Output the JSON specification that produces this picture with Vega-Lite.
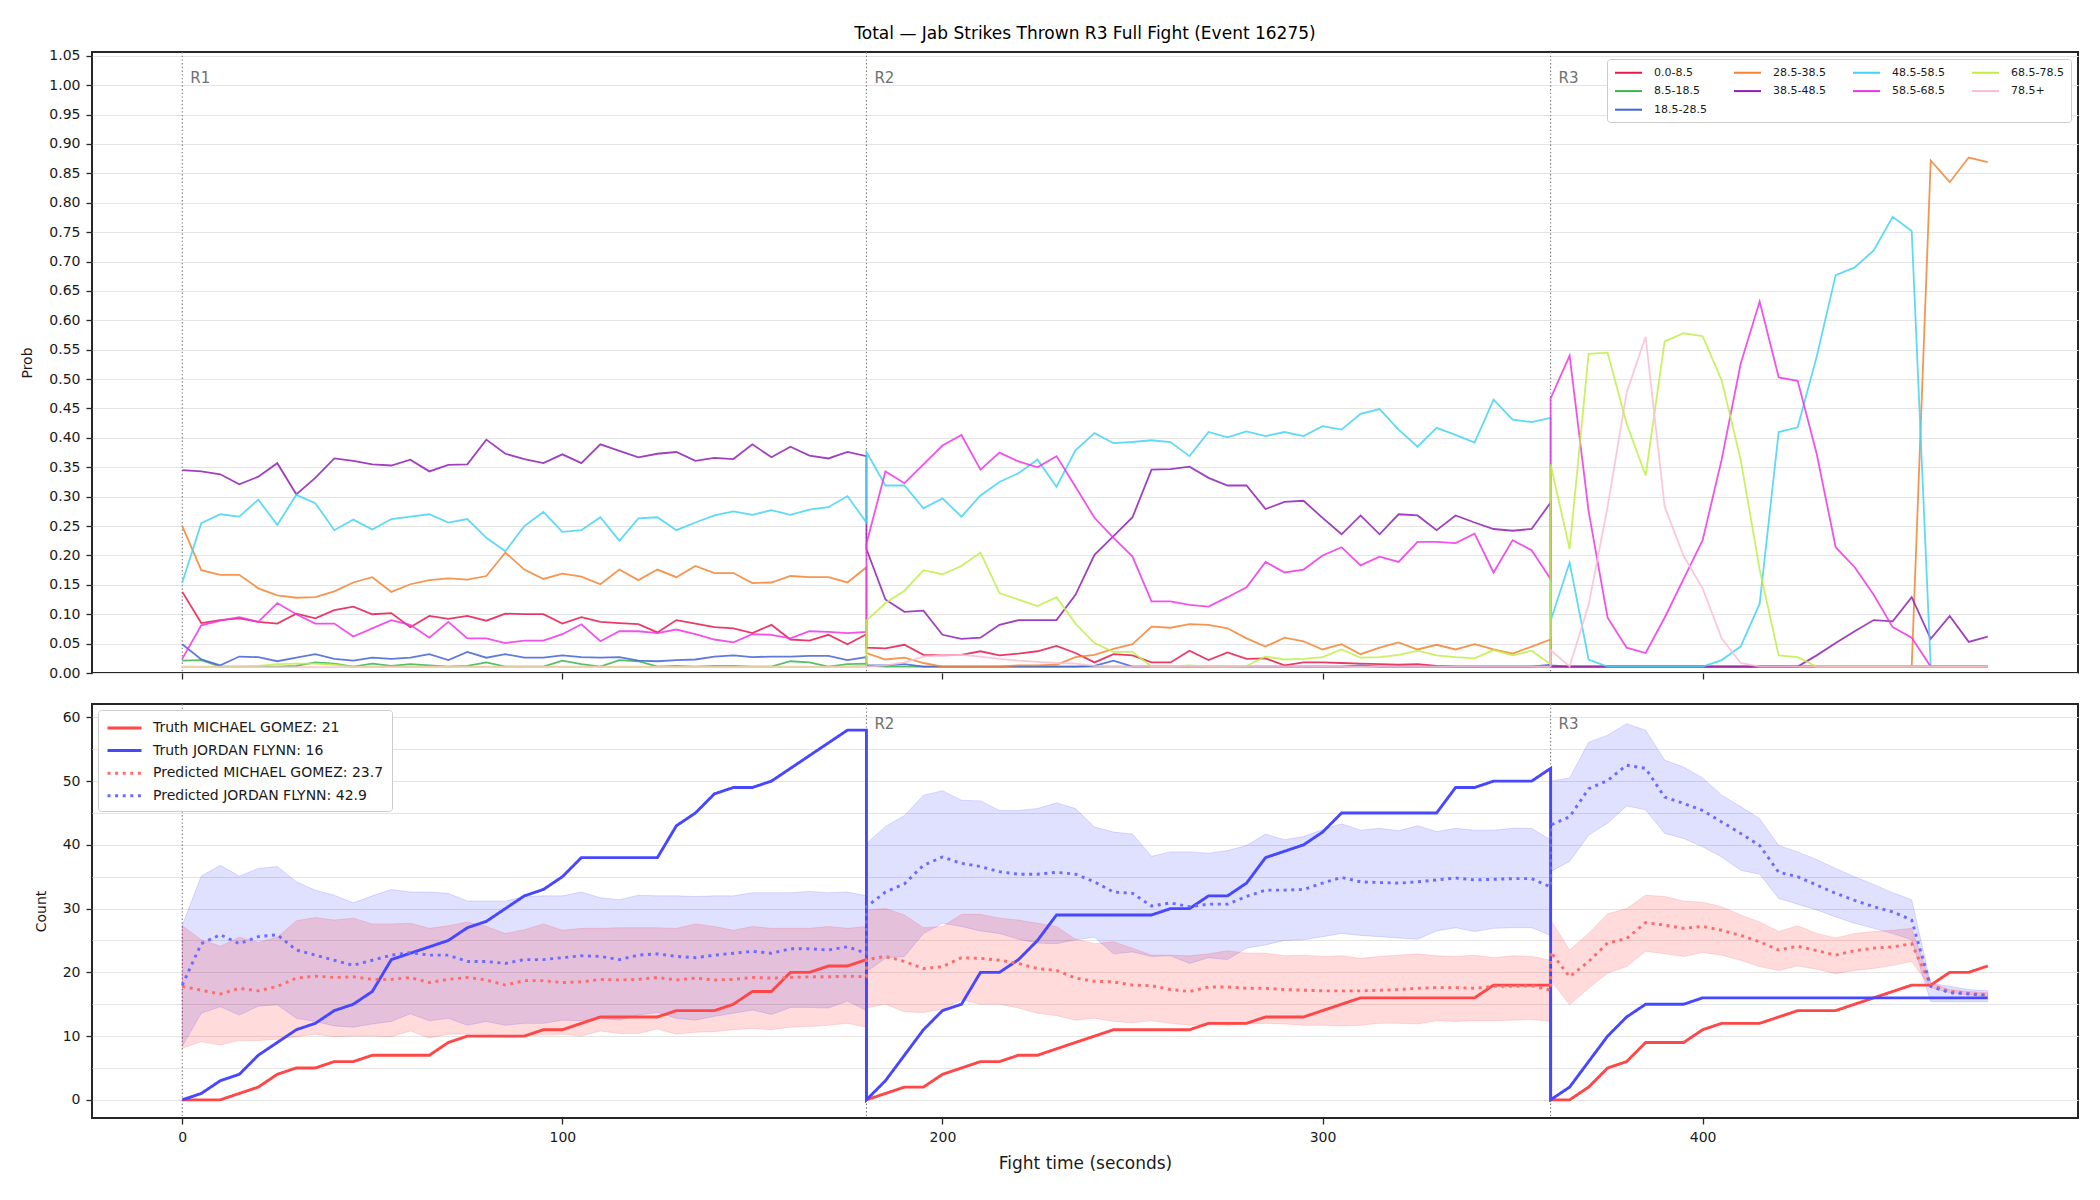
{
  "$schema": "https://vega.github.io/schema/vega-lite/v6.json",
  "background": "white",
  "padding": {"left": 19, "top": 23, "right": 21, "bottom": 22},
  "autosize": {"type": "pad"},
  "config": {
    "font": "DejaVu Sans",
    "view": {"stroke": "#262626", "strokeWidth": 2},
    "axis": {
      "domain": false, "grid": false, "ticks": true, "tickColor": "#262626", "tickWidth": 1.3, "tickSize": 6,
      "labelColor": "#1a1a1a", "labelFontSize": 14, "labelFont": "DejaVu Sans", "labelPadding": 6, "labelOverlap": false,
      "titleFont": "DejaVu Sans", "titleFontWeight": "normal", "titleColor": "#1a1a1a", "titleFontSize": 14, "titlePadding": 14
    },
    "axisY": {"grid": true, "gridColor": "#e4e4e4", "gridWidth": 1},
    "legend": {"labelFont": "DejaVu Sans", "labelColor": "#1a1a1a", "labelLimit": 500}
  },
  "datasets": {
    "rounds": [
      {"t": 0, "label": "R1"},
      {"t": 180, "label": "R2"},
      {"t": 360, "label": "R3"}
    ],
    "prob": [
      {"t":0,"r":1,"b1":0.138,"b2":0.021,"b3":0.049,"b4":0.25,"b5":0.345,"b6":0.154,"b7":0.024,"b8":0.011,"b9":0.01},
      {"t":5,"r":1,"b1":0.085,"b2":0.022,"b3":0.023,"b4":0.175,"b5":0.343,"b6":0.255,"b7":0.081,"b8":0.011,"b9":0.01},
      {"t":10,"r":1,"b1":0.09,"b2":0.011,"b3":0.013,"b4":0.167,"b5":0.338,"b6":0.27,"b7":0.089,"b8":0.011,"b9":0.01},
      {"t":15,"r":1,"b1":0.093,"b2":0.011,"b3":0.028,"b4":0.167,"b5":0.321,"b6":0.266,"b7":0.095,"b8":0.011,"b9":0.01},
      {"t":20,"r":1,"b1":0.087,"b2":0.011,"b3":0.027,"b4":0.144,"b5":0.334,"b6":0.295,"b7":0.087,"b8":0.012,"b9":0.01},
      {"t":25,"r":1,"b1":0.084,"b2":0.011,"b3":0.02,"b4":0.132,"b5":0.357,"b6":0.252,"b7":0.119,"b8":0.015,"b9":0.01},
      {"t":30,"r":1,"b1":0.101,"b2":0.012,"b3":0.026,"b4":0.128,"b5":0.304,"b6":0.303,"b7":0.1,"b8":0.016,"b9":0.01},
      {"t":35,"r":1,"b1":0.093,"b2":0.018,"b3":0.032,"b4":0.129,"b5":0.332,"b6":0.289,"b7":0.084,"b8":0.016,"b9":0.01},
      {"t":40,"r":1,"b1":0.107,"b2":0.016,"b3":0.024,"b4":0.139,"b5":0.365,"b6":0.243,"b7":0.084,"b8":0.014,"b9":0.01},
      {"t":45,"r":1,"b1":0.113,"b2":0.011,"b3":0.021,"b4":0.154,"b5":0.361,"b6":0.261,"b7":0.062,"b8":0.011,"b9":0.01},
      {"t":50,"r":1,"b1":0.1,"b2":0.016,"b3":0.026,"b4":0.163,"b5":0.355,"b6":0.244,"b7":0.076,"b8":0.011,"b9":0.01},
      {"t":55,"r":1,"b1":0.102,"b2":0.012,"b3":0.024,"b4":0.138,"b5":0.353,"b6":0.262,"b7":0.09,"b8":0.011,"b9":0.01},
      {"t":60,"r":1,"b1":0.078,"b2":0.015,"b3":0.026,"b4":0.151,"b5":0.363,"b6":0.266,"b7":0.082,"b8":0.011,"b9":0.01},
      {"t":65,"r":1,"b1":0.097,"b2":0.013,"b3":0.032,"b4":0.158,"b5":0.343,"b6":0.27,"b7":0.06,"b8":0.011,"b9":0.01},
      {"t":70,"r":1,"b1":0.092,"b2":0.011,"b3":0.022,"b4":0.161,"b5":0.354,"b6":0.256,"b7":0.087,"b8":0.011,"b9":0.01},
      {"t":75,"r":1,"b1":0.097,"b2":0.012,"b3":0.036,"b4":0.159,"b5":0.355,"b6":0.262,"b7":0.059,"b8":0.011,"b9":0.01},
      {"t":80,"r":1,"b1":0.089,"b2":0.018,"b3":0.026,"b4":0.165,"b5":0.397,"b6":0.23,"b7":0.059,"b8":0.011,"b9":0.01},
      {"t":85,"r":1,"b1":0.101,"b2":0.011,"b3":0.032,"b4":0.205,"b5":0.373,"b6":0.207,"b7":0.051,"b8":0.011,"b9":0.01},
      {"t":90,"r":1,"b1":0.1,"b2":0.011,"b3":0.026,"b4":0.176,"b5":0.364,"b6":0.25,"b7":0.055,"b8":0.011,"b9":0.01},
      {"t":95,"r":1,"b1":0.1,"b2":0.011,"b3":0.026,"b4":0.16,"b5":0.357,"b6":0.274,"b7":0.055,"b8":0.011,"b9":0.01},
      {"t":100,"r":1,"b1":0.084,"b2":0.021,"b3":0.03,"b4":0.169,"b5":0.372,"b6":0.24,"b7":0.066,"b8":0.011,"b9":0.01},
      {"t":105,"r":1,"b1":0.095,"b2":0.015,"b3":0.027,"b4":0.164,"b5":0.357,"b6":0.243,"b7":0.083,"b8":0.011,"b9":0.01},
      {"t":110,"r":1,"b1":0.087,"b2":0.011,"b3":0.026,"b4":0.151,"b5":0.389,"b6":0.265,"b7":0.054,"b8":0.011,"b9":0.01},
      {"t":115,"r":1,"b1":0.085,"b2":0.022,"b3":0.027,"b4":0.176,"b5":0.378,"b6":0.225,"b7":0.071,"b8":0.011,"b9":0.01},
      {"t":120,"r":1,"b1":0.083,"b2":0.02,"b3":0.021,"b4":0.158,"b5":0.367,"b6":0.263,"b7":0.071,"b8":0.011,"b9":0.01},
      {"t":125,"r":1,"b1":0.069,"b2":0.011,"b3":0.02,"b4":0.176,"b5":0.373,"b6":0.265,"b7":0.068,"b8":0.011,"b9":0.01},
      {"t":130,"r":1,"b1":0.09,"b2":0.012,"b3":0.022,"b4":0.163,"b5":0.376,"b6":0.243,"b7":0.074,"b8":0.011,"b9":0.01},
      {"t":135,"r":1,"b1":0.084,"b2":0.011,"b3":0.023,"b4":0.182,"b5":0.361,"b6":0.256,"b7":0.066,"b8":0.011,"b9":0.01},
      {"t":140,"r":1,"b1":0.078,"b2":0.012,"b3":0.028,"b4":0.17,"b5":0.366,"b6":0.268,"b7":0.057,"b8":0.011,"b9":0.01},
      {"t":145,"r":1,"b1":0.076,"b2":0.012,"b3":0.03,"b4":0.17,"b5":0.364,"b6":0.275,"b7":0.052,"b8":0.011,"b9":0.01},
      {"t":150,"r":1,"b1":0.068,"b2":0.011,"b3":0.027,"b4":0.153,"b5":0.389,"b6":0.269,"b7":0.066,"b8":0.011,"b9":0.01},
      {"t":155,"r":1,"b1":0.082,"b2":0.011,"b3":0.028,"b4":0.154,"b5":0.367,"b6":0.277,"b7":0.065,"b8":0.011,"b9":0.01},
      {"t":160,"r":1,"b1":0.057,"b2":0.02,"b3":0.028,"b4":0.165,"b5":0.385,"b6":0.269,"b7":0.059,"b8":0.011,"b9":0.01},
      {"t":165,"r":1,"b1":0.055,"b2":0.018,"b3":0.029,"b4":0.163,"b5":0.37,"b6":0.278,"b7":0.071,"b8":0.011,"b9":0.01},
      {"t":170,"r":1,"b1":0.065,"b2":0.011,"b3":0.029,"b4":0.163,"b5":0.365,"b6":0.282,"b7":0.07,"b8":0.011,"b9":0.01},
      {"t":175,"r":1,"b1":0.049,"b2":0.015,"b3":0.022,"b4":0.154,"b5":0.376,"b6":0.301,"b7":0.068,"b8":0.011,"b9":0.01},
      {"t":180,"r":1,"b1":0.066,"b2":0.016,"b3":0.027,"b4":0.18,"b5":0.369,"b6":0.256,"b7":0.07,"b8":0.013,"b9":0.01},
      {"t":180,"r":2,"b1":0.043,"b2":0.012,"b3":0.013,"b4":0.034,"b5":0.211,"b6":0.376,"b7":0.22,"b8":0.089,"b9":0.011},
      {"t":185,"r":2,"b1":0.042,"b2":0.011,"b3":0.013,"b4":0.023,"b5":0.125,"b6":0.319,"b7":0.343,"b8":0.119,"b9":0.013},
      {"t":190,"r":2,"b1":0.048,"b2":0.011,"b3":0.015,"b4":0.026,"b5":0.104,"b6":0.319,"b7":0.323,"b8":0.14,"b9":0.018},
      {"t":195,"r":2,"b1":0.031,"b2":0.011,"b3":0.011,"b4":0.017,"b5":0.106,"b6":0.28,"b7":0.355,"b8":0.175,"b9":0.028},
      {"t":200,"r":2,"b1":0.03,"b2":0.011,"b3":0.011,"b4":0.011,"b5":0.065,"b6":0.297,"b7":0.387,"b8":0.168,"b9":0.03},
      {"t":205,"r":2,"b1":0.031,"b2":0.011,"b3":0.011,"b4":0.011,"b5":0.058,"b6":0.266,"b7":0.405,"b8":0.182,"b9":0.031},
      {"t":210,"r":2,"b1":0.037,"b2":0.011,"b3":0.011,"b4":0.011,"b5":0.06,"b6":0.302,"b7":0.346,"b8":0.205,"b9":0.028},
      {"t":215,"r":2,"b1":0.03,"b2":0.011,"b3":0.011,"b4":0.011,"b5":0.082,"b6":0.325,"b7":0.375,"b8":0.136,"b9":0.024},
      {"t":220,"r":2,"b1":0.033,"b2":0.011,"b3":0.011,"b4":0.013,"b5":0.09,"b6":0.34,"b7":0.36,"b8":0.125,"b9":0.021},
      {"t":225,"r":2,"b1":0.037,"b2":0.011,"b3":0.011,"b4":0.013,"b5":0.09,"b6":0.363,"b7":0.35,"b8":0.114,"b9":0.019},
      {"t":230,"r":2,"b1":0.046,"b2":0.011,"b3":0.011,"b4":0.014,"b5":0.09,"b6":0.317,"b7":0.369,"b8":0.129,"b9":0.017},
      {"t":235,"r":2,"b1":0.034,"b2":0.011,"b3":0.011,"b4":0.027,"b5":0.133,"b6":0.379,"b7":0.317,"b8":0.084,"b9":0.016},
      {"t":240,"r":2,"b1":0.018,"b2":0.011,"b3":0.012,"b4":0.031,"b5":0.201,"b6":0.408,"b7":0.264,"b8":0.051,"b9":0.012},
      {"t":245,"r":2,"b1":0.032,"b2":0.011,"b3":0.021,"b4":0.041,"b5":0.233,"b6":0.391,"b7":0.23,"b8":0.036,"b9":0.011},
      {"t":250,"r":2,"b1":0.03,"b2":0.011,"b3":0.011,"b4":0.049,"b5":0.265,"b6":0.393,"b7":0.198,"b8":0.036,"b9":0.011},
      {"t":255,"r":2,"b1":0.018,"b2":0.011,"b3":0.011,"b4":0.079,"b5":0.346,"b6":0.396,"b7":0.122,"b8":0.011,"b9":0.011},
      {"t":260,"r":2,"b1":0.018,"b2":0.011,"b3":0.011,"b4":0.077,"b5":0.347,"b6":0.393,"b7":0.122,"b8":0.011,"b9":0.011},
      {"t":265,"r":2,"b1":0.038,"b2":0.011,"b3":0.011,"b4":0.083,"b5":0.351,"b6":0.369,"b7":0.116,"b8":0.013,"b9":0.011},
      {"t":270,"r":2,"b1":0.022,"b2":0.011,"b3":0.011,"b4":0.082,"b5":0.332,"b6":0.41,"b7":0.113,"b8":0.011,"b9":0.011},
      {"t":275,"r":2,"b1":0.035,"b2":0.011,"b3":0.011,"b4":0.076,"b5":0.319,"b6":0.401,"b7":0.129,"b8":0.011,"b9":0.011},
      {"t":280,"r":2,"b1":0.024,"b2":0.011,"b3":0.011,"b4":0.059,"b5":0.319,"b6":0.411,"b7":0.146,"b8":0.012,"b9":0.011},
      {"t":285,"r":2,"b1":0.025,"b2":0.011,"b3":0.011,"b4":0.045,"b5":0.279,"b6":0.403,"b7":0.189,"b8":0.028,"b9":0.011},
      {"t":290,"r":2,"b1":0.013,"b2":0.011,"b3":0.011,"b4":0.06,"b5":0.291,"b6":0.41,"b7":0.171,"b8":0.023,"b9":0.011},
      {"t":295,"r":2,"b1":0.018,"b2":0.011,"b3":0.011,"b4":0.054,"b5":0.293,"b6":0.403,"b7":0.176,"b8":0.024,"b9":0.011},
      {"t":300,"r":2,"b1":0.018,"b2":0.011,"b3":0.011,"b4":0.04,"b5":0.264,"b6":0.42,"b7":0.2,"b8":0.027,"b9":0.011},
      {"t":305,"r":2,"b1":0.017,"b2":0.011,"b3":0.011,"b4":0.049,"b5":0.236,"b6":0.414,"b7":0.214,"b8":0.04,"b9":0.011},
      {"t":310,"r":2,"b1":0.016,"b2":0.011,"b3":0.013,"b4":0.032,"b5":0.268,"b6":0.441,"b7":0.183,"b8":0.026,"b9":0.011},
      {"t":315,"r":2,"b1":0.015,"b2":0.011,"b3":0.011,"b4":0.043,"b5":0.236,"b6":0.449,"b7":0.198,"b8":0.027,"b9":0.011},
      {"t":320,"r":2,"b1":0.014,"b2":0.011,"b3":0.011,"b4":0.052,"b5":0.27,"b6":0.414,"b7":0.189,"b8":0.031,"b9":0.011},
      {"t":325,"r":2,"b1":0.015,"b2":0.011,"b3":0.011,"b4":0.04,"b5":0.268,"b6":0.385,"b7":0.223,"b8":0.038,"b9":0.011},
      {"t":330,"r":2,"b1":0.012,"b2":0.011,"b3":0.011,"b4":0.048,"b5":0.243,"b6":0.417,"b7":0.223,"b8":0.03,"b9":0.011},
      {"t":335,"r":2,"b1":0.011,"b2":0.011,"b3":0.011,"b4":0.04,"b5":0.268,"b6":0.405,"b7":0.221,"b8":0.027,"b9":0.011},
      {"t":340,"r":2,"b1":0.011,"b2":0.011,"b3":0.011,"b4":0.049,"b5":0.256,"b6":0.392,"b7":0.237,"b8":0.025,"b9":0.011},
      {"t":345,"r":2,"b1":0.011,"b2":0.011,"b3":0.011,"b4":0.04,"b5":0.245,"b6":0.465,"b7":0.171,"b8":0.039,"b9":0.011},
      {"t":350,"r":2,"b1":0.011,"b2":0.011,"b3":0.011,"b4":0.033,"b5":0.242,"b6":0.431,"b7":0.226,"b8":0.03,"b9":0.011},
      {"t":355,"r":2,"b1":0.011,"b2":0.011,"b3":0.011,"b4":0.045,"b5":0.245,"b6":0.427,"b7":0.209,"b8":0.038,"b9":0.011},
      {"t":360,"r":2,"b1":0.011,"b2":0.011,"b3":0.014,"b4":0.057,"b5":0.29,"b6":0.434,"b7":0.16,"b8":0.015,"b9":0.011},
      {"t":360,"r":3,"b1":0.011,"b2":0.011,"b3":0.013,"b4":0.011,"b5":0.011,"b6":0.089,"b7":0.467,"b8":0.355,"b9":0.039},
      {"t":365,"r":3,"b1":0.011,"b2":0.011,"b3":0.011,"b4":0.011,"b5":0.011,"b6":0.188,"b7":0.54,"b8":0.211,"b9":0.011},
      {"t":370,"r":3,"b1":0.011,"b2":0.011,"b3":0.011,"b4":0.011,"b5":0.011,"b6":0.023,"b7":0.275,"b8":0.543,"b9":0.116},
      {"t":375,"r":3,"b1":0.011,"b2":0.011,"b3":0.011,"b4":0.011,"b5":0.011,"b6":0.011,"b7":0.094,"b8":0.545,"b9":0.283},
      {"t":380,"r":3,"b1":0.011,"b2":0.011,"b3":0.011,"b4":0.011,"b5":0.011,"b6":0.011,"b7":0.043,"b8":0.424,"b9":0.477},
      {"t":385,"r":3,"b1":0.011,"b2":0.011,"b3":0.011,"b4":0.011,"b5":0.011,"b6":0.011,"b7":0.034,"b8":0.336,"b9":0.572},
      {"t":390,"r":3,"b1":0.011,"b2":0.011,"b3":0.011,"b4":0.011,"b5":0.011,"b6":0.011,"b7":0.094,"b8":0.564,"b9":0.283},
      {"t":395,"r":3,"b1":0.011,"b2":0.011,"b3":0.011,"b4":0.011,"b5":0.011,"b6":0.011,"b7":0.16,"b8":0.578,"b9":0.199},
      {"t":400,"r":3,"b1":0.011,"b2":0.011,"b3":0.011,"b4":0.011,"b5":0.011,"b6":0.011,"b7":0.226,"b8":0.573,"b9":0.144},
      {"t":405,"r":3,"b1":0.011,"b2":0.011,"b3":0.011,"b4":0.011,"b5":0.011,"b6":0.022,"b7":0.363,"b8":0.498,"b9":0.059},
      {"t":410,"r":3,"b1":0.011,"b2":0.011,"b3":0.011,"b4":0.011,"b5":0.011,"b6":0.045,"b7":0.526,"b8":0.363,"b9":0.017},
      {"t":415,"r":3,"b1":0.011,"b2":0.011,"b3":0.011,"b4":0.011,"b5":0.011,"b6":0.118,"b7":0.632,"b8":0.176,"b9":0.011},
      {"t":420,"r":3,"b1":0.011,"b2":0.011,"b3":0.011,"b4":0.011,"b5":0.011,"b6":0.41,"b7":0.503,"b8":0.03,"b9":0.011},
      {"t":425,"r":3,"b1":0.011,"b2":0.011,"b3":0.011,"b4":0.011,"b5":0.011,"b6":0.418,"b7":0.497,"b8":0.027,"b9":0.011},
      {"t":430,"r":3,"b1":0.011,"b2":0.011,"b3":0.011,"b4":0.011,"b5":0.03,"b6":0.538,"b7":0.373,"b8":0.011,"b9":0.011},
      {"t":435,"r":3,"b1":0.011,"b2":0.011,"b3":0.011,"b4":0.011,"b5":0.051,"b6":0.677,"b7":0.214,"b8":0.011,"b9":0.011},
      {"t":440,"r":3,"b1":0.011,"b2":0.011,"b3":0.011,"b4":0.011,"b5":0.071,"b6":0.69,"b7":0.18,"b8":0.011,"b9":0.011},
      {"t":445,"r":3,"b1":0.011,"b2":0.011,"b3":0.011,"b4":0.011,"b5":0.09,"b6":0.719,"b7":0.133,"b8":0.011,"b9":0.011},
      {"t":450,"r":3,"b1":0.011,"b2":0.011,"b3":0.011,"b4":0.011,"b5":0.088,"b6":0.776,"b7":0.078,"b8":0.011,"b9":0.011},
      {"t":455,"r":3,"b1":0.011,"b2":0.011,"b3":0.011,"b4":0.011,"b5":0.129,"b6":0.752,"b7":0.06,"b8":0.011,"b9":0.011},
      {"t":460,"r":3,"b1":0.011,"b2":0.011,"b3":0.011,"b4":0.872,"b5":0.058,"b6":0.011,"b7":0.011,"b8":0.011,"b9":0.011},
      {"t":465,"r":3,"b1":0.011,"b2":0.011,"b3":0.011,"b4":0.835,"b5":0.097,"b6":0.011,"b7":0.011,"b8":0.011,"b9":0.011},
      {"t":470,"r":3,"b1":0.011,"b2":0.011,"b3":0.011,"b4":0.877,"b5":0.053,"b6":0.011,"b7":0.011,"b8":0.011,"b9":0.011},
      {"t":475,"r":3,"b1":0.011,"b2":0.011,"b3":0.011,"b4":0.869,"b5":0.062,"b6":0.011,"b7":0.011,"b8":0.011,"b9":0.011}
    ],
    "count": [
      {"t":0,"r":1,"tg":0,"tf":0,"pg":17.8,"pf":18,"lg":8.1,"hg":27.3,"lf":8.4,"hf":27.4},
      {"t":5,"r":1,"tg":0,"tf":1,"pg":17.2,"pf":24.5,"lg":9.1,"hg":25.1,"lf":13.6,"hf":35.1},
      {"t":10,"r":1,"tg":0,"tf":3,"pg":16.6,"pf":25.9,"lg":8.6,"hg":24.1,"lf":14.6,"hf":36.8},
      {"t":15,"r":1,"tg":1,"tf":4,"pg":17.5,"pf":24.5,"lg":9.3,"hg":25.5,"lf":13.3,"hf":35.1},
      {"t":20,"r":1,"tg":2,"tf":7,"pg":17.1,"pf":25.6,"lg":9.3,"hg":24.7,"lf":14.7,"hf":36.3},
      {"t":25,"r":1,"tg":4,"tf":9,"pg":17.8,"pf":25.9,"lg":9.5,"hg":25.5,"lf":14.9,"hf":36.6},
      {"t":30,"r":1,"tg":5,"tf":11,"pg":19.1,"pf":23.5,"lg":9.9,"hg":28.1,"lf":12.8,"hf":34.2},
      {"t":35,"r":1,"tg":5,"tf":12,"pg":19.4,"pf":22.7,"lg":10.3,"hg":28.6,"lf":12.3,"hf":32.9},
      {"t":40,"r":1,"tg":6,"tf":14,"pg":19.2,"pf":21.9,"lg":9.9,"hg":28.2,"lf":11.6,"hf":32.1},
      {"t":45,"r":1,"tg":6,"tf":15,"pg":19.3,"pf":21.1,"lg":10,"hg":28.5,"lf":11.4,"hf":30.9},
      {"t":50,"r":1,"tg":7,"tf":17,"pg":18.9,"pf":21.9,"lg":10,"hg":27.6,"lf":11.9,"hf":32},
      {"t":55,"r":1,"tg":7,"tf":22,"pg":18.9,"pf":22.7,"lg":9.9,"hg":27.6,"lf":12.3,"hf":33},
      {"t":60,"r":1,"tg":7,"tf":23,"pg":19.2,"pf":23.1,"lg":10.8,"hg":27.7,"lf":13.5,"hf":32.6},
      {"t":65,"r":1,"tg":7,"tf":24,"pg":18.4,"pf":22.7,"lg":9.7,"hg":26.9,"lf":12.4,"hf":32.6},
      {"t":70,"r":1,"tg":9,"tf":25,"pg":18.9,"pf":22.7,"lg":10.3,"hg":27.3,"lf":12.8,"hf":32.4},
      {"t":75,"r":1,"tg":10,"tf":27,"pg":19.2,"pf":21.7,"lg":10.3,"hg":27.9,"lf":11.7,"hf":31.2},
      {"t":80,"r":1,"tg":10,"tf":28,"pg":18.8,"pf":21.7,"lg":10.3,"hg":27.2,"lf":12.3,"hf":31.2},
      {"t":85,"r":1,"tg":10,"tf":30,"pg":18,"pf":21.4,"lg":9.8,"hg":26.1,"lf":11.7,"hf":31.2},
      {"t":90,"r":1,"tg":10,"tf":32,"pg":18.7,"pf":22,"lg":10,"hg":26.7,"lf":12,"hf":31.9},
      {"t":95,"r":1,"tg":11,"tf":33,"pg":18.7,"pf":22,"lg":10.2,"hg":27.6,"lf":12,"hf":32},
      {"t":100,"r":1,"tg":11,"tf":35,"pg":18.4,"pf":22.3,"lg":10.3,"hg":26.6,"lf":12.5,"hf":32},
      {"t":105,"r":1,"tg":12,"tf":38,"pg":18.5,"pf":22.6,"lg":10,"hg":26.9,"lf":12.4,"hf":32.6},
      {"t":110,"r":1,"tg":13,"tf":38,"pg":18.9,"pf":22.5,"lg":10.8,"hg":26.9,"lf":12.8,"hf":31.7},
      {"t":115,"r":1,"tg":13,"tf":38,"pg":18.8,"pf":22,"lg":10.4,"hg":27,"lf":12.5,"hf":31.4},
      {"t":120,"r":1,"tg":13,"tf":38,"pg":18.9,"pf":22.7,"lg":10.4,"hg":27,"lf":13.3,"hf":32.1},
      {"t":125,"r":1,"tg":13,"tf":38,"pg":19.2,"pf":22.9,"lg":11.1,"hg":27,"lf":13.7,"hf":32},
      {"t":130,"r":1,"tg":14,"tf":43,"pg":18.8,"pf":22.5,"lg":10.3,"hg":26.9,"lf":12.8,"hf":32},
      {"t":135,"r":1,"tg":14,"tf":45,"pg":19.1,"pf":22.3,"lg":10.6,"hg":27.6,"lf":12.5,"hf":31.9},
      {"t":140,"r":1,"tg":14,"tf":48,"pg":18.8,"pf":22.7,"lg":10.7,"hg":27.2,"lf":13.1,"hf":32},
      {"t":145,"r":1,"tg":15,"tf":49,"pg":18.9,"pf":23,"lg":11,"hg":26.6,"lf":13.6,"hf":32},
      {"t":150,"r":1,"tg":17,"tf":49,"pg":19.2,"pf":23.3,"lg":11.2,"hg":27.2,"lf":14.1,"hf":32.5},
      {"t":155,"r":1,"tg":17,"tf":50,"pg":19.1,"pf":23,"lg":11,"hg":26.9,"lf":13.4,"hf":32.5},
      {"t":160,"r":1,"tg":20,"tf":52,"pg":19.2,"pf":23.7,"lg":11.4,"hg":26.9,"lf":14.5,"hf":32.5},
      {"t":165,"r":1,"tg":20,"tf":54,"pg":19.3,"pf":23.7,"lg":11.5,"hg":26.9,"lf":14.5,"hf":32.7},
      {"t":170,"r":1,"tg":21,"tf":56,"pg":19.3,"pf":23.5,"lg":11.7,"hg":27.2,"lf":14.4,"hf":32.5},
      {"t":175,"r":1,"tg":21,"tf":58,"pg":19.4,"pf":24,"lg":12,"hg":26.9,"lf":15.5,"hf":32.6},
      {"t":180,"r":1,"tg":22,"tf":58,"pg":19.3,"pf":23,"lg":11.4,"hg":27.2,"lf":14,"hf":32},
      {"t":180,"r":2,"tg":0,"tf":0,"pg":22,"pf":30.3,"lg":14.4,"hg":29.8,"lf":20.1,"hf":40.2},
      {"t":185,"r":2,"tg":1,"tf":3,"pg":22.5,"pf":32.6,"lg":15,"hg":30,"lf":22.2,"hf":42.9},
      {"t":190,"r":2,"tg":2,"tf":7,"pg":21.7,"pf":33.9,"lg":13.8,"hg":29,"lf":22.5,"hf":44.6},
      {"t":195,"r":2,"tg":2,"tf":11,"pg":20.6,"pf":36.8,"lg":13.7,"hg":27,"lf":26.1,"hf":47.8},
      {"t":200,"r":2,"tg":4,"tf":14,"pg":20.9,"pf":38.1,"lg":14.2,"hg":27.2,"lf":27.7,"hf":48.5},
      {"t":205,"r":2,"tg":5,"tf":15,"pg":22.3,"pf":37.1,"lg":15.7,"hg":29.1,"lf":27.2,"hf":47},
      {"t":210,"r":2,"tg":6,"tf":20,"pg":22.2,"pf":36.6,"lg":15,"hg":29.1,"lf":26.5,"hf":46.9},
      {"t":215,"r":2,"tg":6,"tf":20,"pg":21.9,"pf":35.8,"lg":15,"hg":28.5,"lf":26.1,"hf":45.4},
      {"t":220,"r":2,"tg":7,"tf":22,"pg":21.4,"pf":35.4,"lg":14.4,"hg":28.2,"lf":25.2,"hf":45.4},
      {"t":225,"r":2,"tg":7,"tf":25,"pg":20.6,"pf":35.4,"lg":13.6,"hg":27.7,"lf":24.6,"hf":45.7},
      {"t":230,"r":2,"tg":8,"tf":29,"pg":20.3,"pf":35.7,"lg":13.2,"hg":27.2,"lf":24.5,"hf":46.6},
      {"t":235,"r":2,"tg":9,"tf":29,"pg":19.1,"pf":35.4,"lg":12.5,"hg":25.2,"lf":25.1,"hf":45.7},
      {"t":240,"r":2,"tg":10,"tf":29,"pg":18.6,"pf":34.2,"lg":12.8,"hg":24.5,"lf":25.5,"hf":42.8},
      {"t":245,"r":2,"tg":11,"tf":29,"pg":18.5,"pf":32.6,"lg":12.3,"hg":24.8,"lf":22.9,"hf":42},
      {"t":250,"r":2,"tg":11,"tf":29,"pg":18,"pf":32.4,"lg":12.1,"hg":23.8,"lf":23.2,"hf":41.7},
      {"t":255,"r":2,"tg":11,"tf":29,"pg":17.9,"pf":30.4,"lg":12.4,"hg":22.7,"lf":22.5,"hf":38.2},
      {"t":260,"r":2,"tg":11,"tf":30,"pg":17.3,"pf":30.9,"lg":12,"hg":22.7,"lf":22.6,"hf":38.9},
      {"t":265,"r":2,"tg":11,"tf":30,"pg":17,"pf":30.3,"lg":11.7,"hg":22.6,"lf":21.4,"hf":38.9},
      {"t":270,"r":2,"tg":12,"tf":32,"pg":17.7,"pf":30.7,"lg":11.9,"hg":22.9,"lf":22.3,"hf":38.7},
      {"t":275,"r":2,"tg":12,"tf":32,"pg":17.7,"pf":30.7,"lg":11.7,"hg":23.4,"lf":22,"hf":39.1},
      {"t":280,"r":2,"tg":12,"tf":34,"pg":17.5,"pf":31.9,"lg":11.9,"hg":23,"lf":23.8,"hf":39.9},
      {"t":285,"r":2,"tg":13,"tf":38,"pg":17.5,"pf":32.9,"lg":12,"hg":23,"lf":24.3,"hf":41.7},
      {"t":290,"r":2,"tg":13,"tf":39,"pg":17.3,"pf":32.9,"lg":11.9,"hg":22.6,"lf":25,"hf":40.8},
      {"t":295,"r":2,"tg":13,"tf":40,"pg":17.2,"pf":33,"lg":11.7,"hg":22.7,"lf":25.1,"hf":41.3},
      {"t":300,"r":2,"tg":14,"tf":42,"pg":17.1,"pf":34,"lg":11.7,"hg":22.5,"lf":25.6,"hf":42.4},
      {"t":305,"r":2,"tg":15,"tf":45,"pg":17.1,"pf":34.9,"lg":11.6,"hg":22.6,"lf":26.1,"hf":43.3},
      {"t":310,"r":2,"tg":16,"tf":45,"pg":17.1,"pf":34.2,"lg":11.7,"hg":22.2,"lf":25.8,"hf":42.3},
      {"t":315,"r":2,"tg":16,"tf":45,"pg":17.2,"pf":34.1,"lg":12,"hg":22.5,"lf":25.6,"hf":42.6},
      {"t":320,"r":2,"tg":16,"tf":45,"pg":17.3,"pf":34,"lg":12,"hg":22.7,"lf":25.4,"hf":42.2},
      {"t":325,"r":2,"tg":16,"tf":45,"pg":17.5,"pf":34.2,"lg":11.9,"hg":22.9,"lf":25.2,"hf":43},
      {"t":330,"r":2,"tg":16,"tf":45,"pg":17.6,"pf":34.5,"lg":12.4,"hg":22.6,"lf":26.5,"hf":42.1},
      {"t":335,"r":2,"tg":16,"tf":49,"pg":17.6,"pf":34.8,"lg":12.3,"hg":22.5,"lf":27,"hf":42.6},
      {"t":340,"r":2,"tg":16,"tf":49,"pg":17.5,"pf":34.5,"lg":12.4,"hg":22.7,"lf":26.4,"hf":42.3},
      {"t":345,"r":2,"tg":18,"tf":50,"pg":17.8,"pf":34.6,"lg":12.4,"hg":22.3,"lf":26.9,"hf":42.3},
      {"t":350,"r":2,"tg":18,"tf":50,"pg":17.8,"pf":34.7,"lg":12.5,"hg":22.6,"lf":27,"hf":42.6},
      {"t":355,"r":2,"tg":18,"tf":50,"pg":17.9,"pf":34.7,"lg":12.6,"hg":22.5,"lf":27,"hf":42.6},
      {"t":360,"r":2,"tg":18,"tf":52,"pg":17.2,"pf":33.4,"lg":12.3,"hg":21.9,"lf":25.8,"hf":40.8},
      {"t":360,"r":3,"tg":0,"tf":0,"pg":23.2,"pf":43.1,"lg":18.8,"hg":28.2,"lf":35.8,"hf":50},
      {"t":365,"r":3,"tg":0,"tf":2,"pg":19.3,"pf":44.4,"lg":14.9,"hg":23.5,"lf":37.4,"hf":50.5},
      {"t":370,"r":3,"tg":2,"tf":6,"pg":21.7,"pf":48.8,"lg":17.5,"hg":26.1,"lf":41.5,"hf":56.1},
      {"t":375,"r":3,"tg":5,"tf":10,"pg":24.6,"pf":50.1,"lg":19.9,"hg":29.2,"lf":43.4,"hf":57.2},
      {"t":380,"r":3,"tg":6,"tf":13,"pg":25.3,"pf":52.5,"lg":20.9,"hg":30,"lf":46.1,"hf":59},
      {"t":385,"r":3,"tg":9,"tf":15,"pg":27.8,"pf":52,"lg":23.3,"hg":32.1,"lf":45.5,"hf":58},
      {"t":390,"r":3,"tg":9,"tf":15,"pg":27.4,"pf":47.5,"lg":22.9,"hg":31.9,"lf":41.8,"hf":53.3},
      {"t":395,"r":3,"tg":9,"tf":15,"pg":26.9,"pf":46.5,"lg":22.5,"hg":31.2,"lf":41,"hf":52.2},
      {"t":400,"r":3,"tg":11,"tf":16,"pg":27.2,"pf":45.4,"lg":23.1,"hg":31,"lf":39.7,"hf":50.5},
      {"t":405,"r":3,"tg":12,"tf":16,"pg":26.6,"pf":43.6,"lg":22.7,"hg":30.3,"lf":38.1,"hf":47.8},
      {"t":410,"r":3,"tg":12,"tf":16,"pg":25.8,"pf":41.8,"lg":21.9,"hg":29,"lf":36,"hf":46},
      {"t":415,"r":3,"tg":12,"tf":16,"pg":24.8,"pf":39.9,"lg":20.9,"hg":27.9,"lf":35.4,"hf":44.1},
      {"t":420,"r":3,"tg":13,"tf":16,"pg":23.5,"pf":35.7,"lg":20.3,"hg":26.4,"lf":31.6,"hf":39.9},
      {"t":425,"r":3,"tg":14,"tf":16,"pg":24.1,"pf":35,"lg":21,"hg":27.3,"lf":30.7,"hf":38.9},
      {"t":430,"r":3,"tg":14,"tf":16,"pg":23.4,"pf":33.7,"lg":20.5,"hg":26.1,"lf":29.8,"hf":37.7},
      {"t":435,"r":3,"tg":14,"tf":16,"pg":22.7,"pf":32.4,"lg":19.8,"hg":25.4,"lf":28.7,"hf":36.3},
      {"t":440,"r":3,"tg":15,"tf":16,"pg":23.4,"pf":31.3,"lg":20.3,"hg":26.1,"lf":27.7,"hf":35},
      {"t":445,"r":3,"tg":16,"tf":16,"pg":23.8,"pf":30.3,"lg":20.6,"hg":26.4,"lf":26.9,"hf":33.8},
      {"t":450,"r":3,"tg":17,"tf":16,"pg":24,"pf":29.5,"lg":21.1,"hg":26.6,"lf":26.1,"hf":32.5},
      {"t":455,"r":3,"tg":18,"tf":16,"pg":24.5,"pf":28.2,"lg":21.7,"hg":26.9,"lf":25.1,"hf":31.4},
      {"t":460,"r":3,"tg":18,"tf":16,"pg":18,"pf":17.8,"lg":17.6,"hg":18.3,"lf":15.4,"hf":18.3},
      {"t":465,"r":3,"tg":20,"tf":16,"pg":17,"pf":16.8,"lg":16.8,"hg":17.3,"lf":15.4,"hf":17.8},
      {"t":470,"r":3,"tg":20,"tf":16,"pg":16.7,"pf":16.6,"lg":16.5,"hg":17,"lf":15.4,"hf":17.3},
      {"t":475,"r":3,"tg":21,"tf":16,"pg":16.4,"pf":16.4,"lg":16.2,"hg":16.8,"lf":15.4,"hf":17.1}
    ]
  },
  "spacing": 31,
  "bounds": "flush",
  "resolve": {
    "scale": {"color": "independent", "strokeDash": "independent"},
    "legend": {"color": "independent", "strokeDash": "independent"}
  },
  "vconcat": [
    {
      "width": 1986,
      "height": 621,
      "title": {
        "text": "Total — Jab Strikes Thrown R3 Full Fight (Event 16275)",
        "frame": "group", "anchor": "middle", "fontSize": 17, "fontWeight": "normal",
        "font": "DejaVu Sans", "color": "#000000", "baseline": "bottom", "offset": -11
      },
      "encoding": {
        "x": {
          "field": "t", "type": "quantitative",
          "scale": {"domain": [-23.75, 498.75], "nice": false, "zero": false},
          "axis": {"values": [0, 100, 200, 300, 400], "labels": false, "title": null}
        }
      },
      "layer": [
        {
          "data": {"name": "rounds"},
          "mark": {"type": "rule", "color": "#777777", "strokeWidth": 1.1, "strokeDash": [1.4, 2.3]},
          "encoding": {}
        },
        {
          "data": {"name": "prob"},
          "transform": [{"fold": ["b1", "b2", "b3", "b4", "b5", "b6", "b7", "b8", "b9"], "as": ["bin", "p"]}],
          "mark": {"type": "line", "strokeWidth": 1.8, "strokeOpacity": 0.85},
          "encoding": {
            "y": {
              "field": "p", "type": "quantitative", "title": "Prob",
              "scale": {"domain": [0, 1.0565], "nice": false, "zero": false},
              "axis": {
                "values": [0, 0.05, 0.1, 0.15, 0.2, 0.25, 0.3, 0.35, 0.4, 0.45, 0.5, 0.55, 0.6, 0.65, 0.7, 0.75, 0.8, 0.85, 0.9, 0.95, 1, 1.05],
                "format": ".2f", "labelOverlap": false
              }
            },
            "color": {
              "field": "bin", "type": "nominal",
              "scale": {
                "domain": ["b1", "b8", "b7", "b4", "b2", "b9", "b6", "b5", "b3"],
                "range": ["#e6194b", "#bfef45", "#f032e6", "#f58231", "#3cb44b", "#fabed4", "#42d4f4", "#911eb4", "#4363d8"]
              },
              "legend": {
                "title": null, "orient": "top-right", "offset": 7, "columns": 4,
                "symbolType": "M-1,0H3.91", "symbolSize": 121, "symbolStrokeWidth": 2,
                "labelFontSize": 11, "labelOffset": 27, "columnPadding": 23, "rowPadding": 6.6, "padding": 7,
                "strokeColor": "#cccccc", "fillColor": "#ffffff", "cornerRadius": 3,
                "labelExpr": "{'b1':'0.0-8.5','b2':'8.5-18.5','b3':'18.5-28.5','b4':'28.5-38.5','b5':'38.5-48.5','b6':'48.5-58.5','b7':'58.5-68.5','b8':'68.5-78.5','b9':'78.5+'}[datum.value]"
              }
            },
            "order": [{"field": "t", "type": "quantitative"}, {"field": "r", "type": "quantitative"}]
          }
        },
        {
          "data": {"name": "rounds"},
          "mark": {"type": "text", "align": "left", "baseline": "middle", "dx": 8, "fontSize": 15, "color": "#707070"},
          "encoding": {
            "y": {
              "datum": 1.012, "type": "quantitative", "title": "Prob",
              "axis": {
                "values": [0, 0.05, 0.1, 0.15, 0.2, 0.25, 0.3, 0.35, 0.4, 0.45, 0.5, 0.55, 0.6, 0.65, 0.7, 0.75, 0.8, 0.85, 0.9, 0.95, 1, 1.05],
                "format": ".2f", "labelOverlap": false
              }
            },
            "text": {"field": "label"}
          }
        }
      ]
    },
    {
      "width": 1986,
      "height": 414,
      "encoding": {
        "x": {
          "field": "t", "type": "quantitative",
          "scale": {"domain": [-23.75, 498.75], "nice": false, "zero": false},
          "axis": {"values": [0, 100, 200, 300, 400], "title": "Fight time (seconds)", "titleFontSize": 17, "titlePadding": 11}
        }
      },
      "layer": [
        {
          "data": {"name": "rounds"},
          "mark": {"type": "rule", "color": "#777777", "strokeWidth": 1.1, "strokeDash": [1.4, 2.3]},
          "encoding": {}
        },
        {
          "data": {"name": "count"},
          "mark": {"type": "area", "fill": "#0000ff", "fillOpacity": 0.12, "stroke": "#0000ff", "strokeOpacity": 0.12, "strokeWidth": 1},
          "encoding": {
            "y": {
              "field": "lf", "type": "quantitative", "title": "Count",
              "scale": {"domain": [-2.85, 62.1], "nice": false, "zero": false},
              "axis": {
                "values": [0, 5, 10, 15, 20, 25, 30, 35, 40, 45, 50, 55, 60], "labelOverlap": false,
                "labelExpr": "datum.value % 10 === 0 ? datum.label : ''",
                "tickOpacity": {"condition": {"test": "datum.value % 10 !== 0", "value": 0}, "value": 1}
              }
            },
            "y2": {"field": "hf"}
          }
        },
        {
          "data": {"name": "count"},
          "mark": {"type": "area", "fill": "#ff0000", "fillOpacity": 0.14, "stroke": "#ff0000", "strokeOpacity": 0.12, "strokeWidth": 1},
          "encoding": {
            "y": {
              "field": "lg", "type": "quantitative", "title": "Count",
              "axis": {
                "values": [0, 5, 10, 15, 20, 25, 30, 35, 40, 45, 50, 55, 60], "labelOverlap": false,
                "labelExpr": "datum.value % 10 === 0 ? datum.label : ''",
                "tickOpacity": {"condition": {"test": "datum.value % 10 !== 0", "value": 0}, "value": 1}
              }
            },
            "y2": {"field": "hg"}
          }
        },
        {
          "data": {"name": "count"},
          "transform": [{"fold": ["tg", "tf", "pg", "pf"], "as": ["s", "v"]}],
          "mark": {"type": "line", "strokeWidth": 2.9},
          "encoding": {
            "y": {
              "field": "v", "type": "quantitative", "title": "Count",
              "axis": {
                "values": [0, 5, 10, 15, 20, 25, 30, 35, 40, 45, 50, 55, 60], "labelOverlap": false,
                "labelExpr": "datum.value % 10 === 0 ? datum.label : ''",
                "tickOpacity": {"condition": {"test": "datum.value % 10 !== 0", "value": 0}, "value": 1}
              }
            },
            "color": {
              "field": "s", "type": "nominal",
              "scale": {"domain": ["tg", "tf", "pg", "pf"], "range": ["#ff4747", "#4747ff", "#ff6b6b", "#6b6bff"]},
              "legend": {
                "title": null, "orient": "top-left", "offset": 6,
                "symbolType": "M-1,0H3", "symbolSize": 289, "symbolStrokeWidth": 3,
                "labelFontSize": 14, "labelOffset": 27, "rowPadding": 5.6, "padding": 8,
                "strokeColor": "#cccccc", "fillColor": "#ffffff", "cornerRadius": 3,
                "labelExpr": "{'tg':'Truth MICHAEL GOMEZ: 21','tf':'Truth JORDAN FLYNN: 16','pg':'Predicted MICHAEL GOMEZ: 23.7','pf':'Predicted JORDAN FLYNN: 42.9'}[datum.value]"
              }
            },
            "strokeDash": {
              "field": "s", "type": "nominal",
              "scale": {"domain": ["tg", "tf", "pg", "pf"], "range": [[1, 0], [1, 0], [3, 4.6], [3, 4.6]]},
              "legend": {
                "title": null, "orient": "top-left", "offset": 6,
                "symbolType": "M-1,0H3", "symbolSize": 289, "symbolStrokeWidth": 3,
                "labelFontSize": 14, "labelOffset": 27, "rowPadding": 5.6, "padding": 8,
                "strokeColor": "#cccccc", "fillColor": "#ffffff", "cornerRadius": 3,
                "labelExpr": "{'tg':'Truth MICHAEL GOMEZ: 21','tf':'Truth JORDAN FLYNN: 16','pg':'Predicted MICHAEL GOMEZ: 23.7','pf':'Predicted JORDAN FLYNN: 42.9'}[datum.value]"
              }
            },
            "order": [{"field": "t", "type": "quantitative"}, {"field": "r", "type": "quantitative"}]
          }
        },
        {
          "data": {"name": "rounds"},
          "transform": [{"filter": "datum.t > 0"}],
          "mark": {"type": "text", "align": "left", "baseline": "middle", "dx": 8, "fontSize": 15, "color": "#707070"},
          "encoding": {
            "y": {
              "datum": 59, "type": "quantitative", "title": "Count",
              "axis": {
                "values": [0, 5, 10, 15, 20, 25, 30, 35, 40, 45, 50, 55, 60], "labelOverlap": false,
                "labelExpr": "datum.value % 10 === 0 ? datum.label : ''",
                "tickOpacity": {"condition": {"test": "datum.value % 10 !== 0", "value": 0}, "value": 1}
              }
            },
            "text": {"field": "label"}
          }
        }
      ]
    }
  ]
}
